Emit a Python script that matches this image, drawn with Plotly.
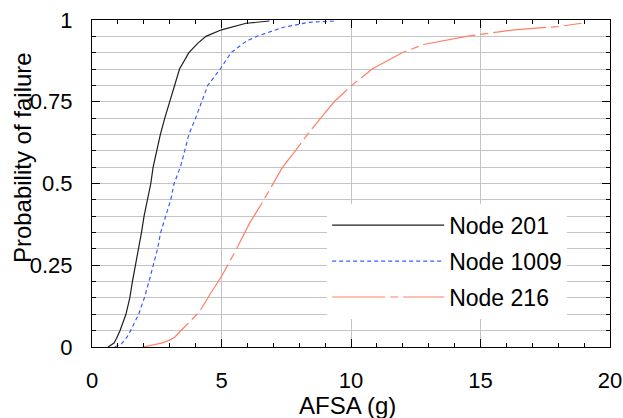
import plotly.graph_objects as go

# Node 201 (black solid)
p201 = [0, 0.012, 0.027, 0.05, 0.1, 0.15, 0.2, 0.25, 0.3, 0.35, 0.4, 0.45, 0.5, 0.55,
        0.6, 0.65, 0.7, 0.75, 0.8, 0.85, 0.9, 0.93, 0.95, 0.97, 0.99, 0.997]
x201 = [0.62, 0.85, 0.95, 1.08, 1.31, 1.46, 1.56, 1.68, 1.78, 1.91, 2.01, 2.13, 2.27, 2.36,
        2.49, 2.64, 2.81, 3.0, 3.19, 3.38, 3.74, 4.1, 4.4, 5.0, 5.95, 6.85]

# Node 1009 (blue dotted)
p1009 = [0, 0.01, 0.03, 0.05, 0.1, 0.15, 0.2, 0.25, 0.3, 0.35, 0.4, 0.45, 0.5, 0.55,
         0.6, 0.65, 0.7, 0.75, 0.8, 0.85, 0.9, 0.935, 0.95, 0.977, 0.993, 0.997]
x1009 = [0.88, 1.14, 1.35, 1.49, 1.80, 2.02, 2.20, 2.36, 2.53, 2.65, 2.85, 3.04, 3.17, 3.41,
         3.58, 3.74, 4.0, 4.22, 4.47, 4.95, 5.37, 5.95, 6.36, 7.36, 8.38, 9.4]

# Node 216 (red dash-dot)
p216 = [0, 0.012, 0.021, 0.03, 0.062, 0.108, 0.159, 0.22, 0.297, 0.378, 0.444, 0.511,
        0.55, 0.6, 0.65, 0.7, 0.75, 0.8, 0.85, 0.9, 0.925, 0.95, 0.97, 0.98, 0.99]
x216 = [1.97, 2.68, 3.0, 3.19, 3.58, 4.15, 4.54, 5.03, 5.56, 6.08, 6.59, 7.08,
        7.36, 7.85, 8.32, 8.83, 9.35, 10.03, 10.82, 11.97, 12.8, 14.46, 16.3, 18.0, 18.9]

x_ticks = [0, 5, 10, 15, 20]
y_ticks = [0, 0.25, 0.5, 0.75, 1]
y_tick_labels = ["0", "0.25", "0.5", "0.75", "1"]

FONT = "Liberation Sans, Arial, sans-serif"

fig = go.Figure()
fig.add_trace(go.Scatter(x=x201, y=p201, mode="lines", name="Node 201", legendgroup="a",
                         line=dict(color="#1e1e1e", width=1.2)))
fig.add_trace(go.Scatter(x=x1009, y=p1009, mode="lines", name="Node 1009", legendgroup="b",
                         line=dict(color="#3d5cff", width=1.2, dash="4px,3px")))
fig.add_trace(go.Scatter(x=x216, y=p216, mode="lines", name="Node 216", legendgroup="c",
                         line=dict(color="#ff7f66", width=1.2, dash="53px,5px,8px,5px")))

fig.update_layout(
    width=623, height=418,
    margin=dict(l=92, r=13, t=20, b=71, autoexpand=False),
    paper_bgcolor="white", plot_bgcolor="white",
    font=dict(family=FONT, size=22, color="black"),
    showlegend=True,
    legend=dict(x=0.454, y=0.438, xanchor="left", yanchor="top",
                bgcolor="white", borderwidth=0, font=dict(size=23),
                itemwidth=112, tracegroupgap=3, traceorder="grouped",
                entrywidth=263, entrywidthmode="pixels"),
    annotations=[
        dict(text="Probability of failure", x=-0.133, y=0.578, xref="paper", yref="paper",
             textangle=-90, showarrow=False, font=dict(size=24), xanchor="center", yanchor="middle"),
        dict(text="AFSA (g)", x=0.493, y=-0.178, xref="paper", yref="paper",
             showarrow=False, font=dict(size=24), xanchor="center", yanchor="middle"),
    ],
)

fig.update_xaxes(
    range=[0, 20], tickvals=x_ticks, ticktext=[str(v) for v in x_ticks],
    showline=True, linecolor="black", linewidth=1, mirror="allticks",
    ticks="inside", ticklen=8, tickcolor="black", tickwidth=1,
    showgrid=True, gridcolor="#c4c4c4", gridwidth=1, zeroline=False,
    ticklabelstandoff=14, automargin=False,
    minor=dict(dtick=1, ticks="inside", ticklen=4, tickcolor="black", showgrid=False),
)
fig.update_yaxes(
    range=[0, 1], tickvals=y_ticks, ticktext=y_tick_labels,
    showline=True, linecolor="black", linewidth=1, mirror="allticks",
    ticks="inside", ticklen=8, tickcolor="black", tickwidth=1,
    showgrid=True, gridcolor="#c4c4c4", gridwidth=1, zeroline=False,
    ticklabelstandoff=14, automargin=False,
    minor=dict(dtick=0.05, ticks="inside", ticklen=4, tickcolor="black",
               showgrid=True, gridcolor="#c4c4c4", gridwidth=1),
)

fig.write_html(
    "out.html",
    config={"displayModeBar": False},
    post_script="document.body.style.margin='0';document.body.style.padding='0';"
                "document.body.style.overflow='hidden';",
)
